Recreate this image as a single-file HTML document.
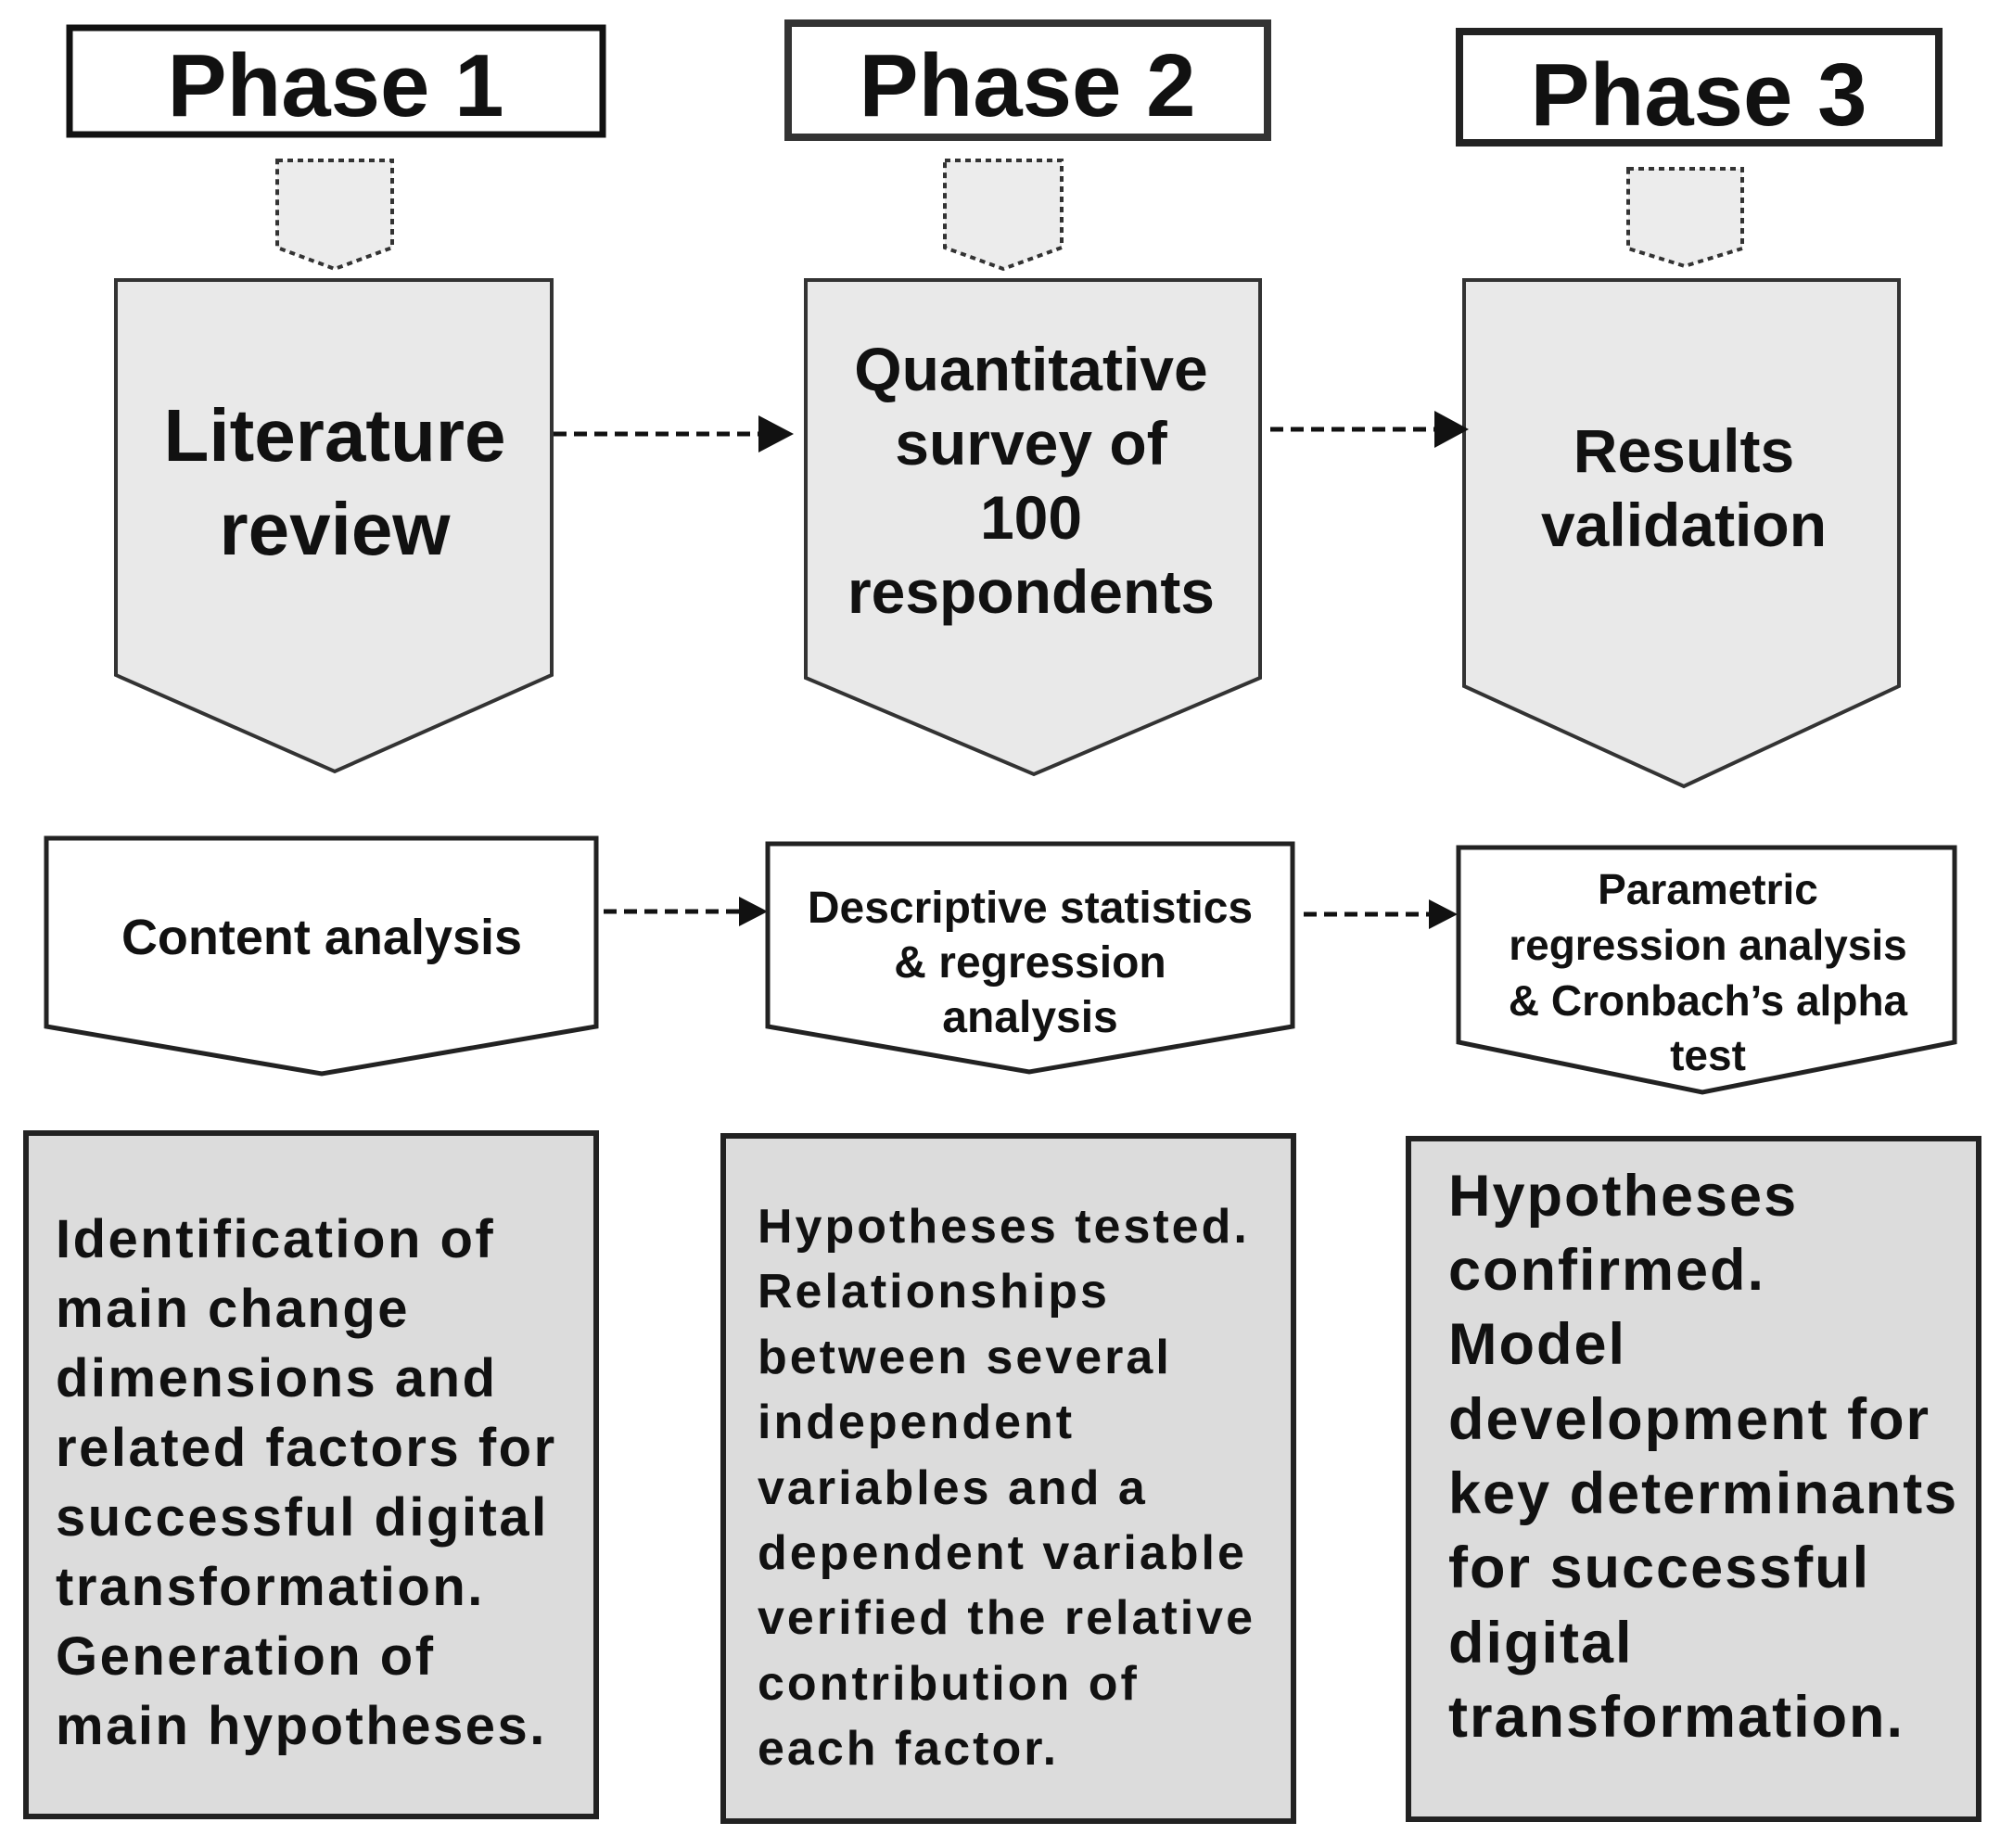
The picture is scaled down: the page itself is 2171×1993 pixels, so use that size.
<!DOCTYPE html>
<html><head><meta charset="utf-8"><style>
html,body{margin:0;padding:0;background:#fff;}
svg{display:block;}
text{font-family:"Liberation Sans",Arial,sans-serif;font-weight:bold;fill:#111;}
</style></head><body>
<svg width="2171" height="1993" viewBox="0 0 2171 1993" xmlns="http://www.w3.org/2000/svg">
<!-- Phase headers -->
<rect x="75" y="30" width="575" height="115" fill="#fff" stroke="#111" stroke-width="7"/>
<text x="362" y="125" font-size="96" text-anchor="middle">Phase 1</text>
<rect x="850" y="25" width="517" height="123" fill="#fff" stroke="#333" stroke-width="8"/>
<text x="1108" y="125" font-size="96" text-anchor="middle">Phase 2</text>
<rect x="1574" y="34" width="517" height="120" fill="#fff" stroke="#222" stroke-width="8"/>
<text x="1832" y="135" font-size="96" text-anchor="middle">Phase 3</text>

<!-- dotted small pentagons -->
<g fill="#ececec" stroke="#333" stroke-width="4" stroke-dasharray="6,5">
<polygon points="299,173 423,173 423,267 361,290 299,267"/>
<polygon points="1019,173 1145,173 1145,267 1082,290 1019,267"/>
<polygon points="1756,182 1879,182 1879,268 1817,287 1756,268"/>
</g>

<!-- big pentagons -->
<g fill="#e9e9e9" stroke="#333" stroke-width="4">
<polygon points="125,302 595,302 595,728 361,832 125,728"/>
<polygon points="869,302 1359,302 1359,731 1115,835 869,731"/>
<polygon points="1579,302 2048,302 2048,740 1816,848 1579,740"/>
</g>
<text x="361" y="497" font-size="80" text-anchor="middle">Literature</text>
<text x="361" y="598" font-size="80" text-anchor="middle">review</text>
<g font-size="66">
<text x="1112" y="421" text-anchor="middle">Quantitative</text>
<text x="1112" y="501" text-anchor="middle">survey of</text>
<text x="1112" y="581" text-anchor="middle">100</text>
<text x="1112" y="661" text-anchor="middle">respondents</text>
<text x="1816" y="509" text-anchor="middle">Results</text>
<text x="1816" y="589" text-anchor="middle">validation</text>
</g>

<!-- arrows -->
<g stroke="#111" stroke-width="5" stroke-dasharray="14,8" fill="none">
<line x1="597" y1="468" x2="826" y2="468"/>
<line x1="1370" y1="463" x2="1555" y2="463"/>
<line x1="651" y1="983" x2="800" y2="983"/>
<line x1="1406" y1="986" x2="1545" y2="986"/>
</g>
<g fill="#111">
<polygon points="818,448 856,468 818,488"/>
<polygon points="1547,443 1584,463 1547,483"/>
<polygon points="797,967 828,983 797,999"/>
<polygon points="1541,970 1572,986 1541,1002"/>
</g>

<!-- row 2 white pentagons -->
<g fill="#fff" stroke="#222" stroke-width="5">
<polygon points="50,904 643,904 643,1107 347,1158 50,1107"/>
<polygon points="828,910 1394,910 1394,1107 1110,1156 828,1107"/>
<polygon points="1573,914 2108,914 2108,1124 1836,1178 1573,1124"/>
</g>
<text x="347" y="1029" font-size="54" text-anchor="middle">Content analysis</text>
<g font-size="48" text-anchor="middle">
<text x="1111" y="995">Descriptive statistics</text>
<text x="1111" y="1054">&amp; regression</text>
<text x="1111" y="1113">analysis</text>
</g>
<g font-size="46" text-anchor="middle">
<text x="1842" y="975">Parametric</text>
<text x="1842" y="1035">regression analysis</text>
<text x="1842" y="1095">&amp; Cronbach’s alpha</text>
<text x="1842" y="1154">test</text>
</g>

<!-- bottom boxes -->
<g fill="#dcdcdc" stroke="#222" stroke-width="6">
<rect x="28" y="1222" width="615" height="737"/>
<rect x="780" y="1225" width="615" height="739"/>
<rect x="1519" y="1228" width="615" height="734"/>
</g>
<g font-size="58" letter-spacing="2.5">
<text x="60" y="1356">Identification of</text>
<text x="60" y="1431">main change</text>
<text x="60" y="1506">dimensions and</text>
<text x="60" y="1581">related factors for</text>
<text x="60" y="1656">successful digital</text>
<text x="60" y="1731">transformation.</text>
<text x="60" y="1806">Generation of</text>
<text x="60" y="1881">main hypotheses.</text>
</g>
<g font-size="52" letter-spacing="3">
<text x="817" y="1340">Hypotheses tested.</text>
<text x="817" y="1410">Relationships</text>
<text x="817" y="1481">between several</text>
<text x="817" y="1551">independent</text>
<text x="817" y="1622">variables and a</text>
<text x="817" y="1692">dependent variable</text>
<text x="817" y="1762">verified the relative</text>
<text x="817" y="1833">contribution of</text>
<text x="817" y="1903">each factor.</text>
</g>
<g font-size="63" letter-spacing="2">
<text x="1562" y="1311">Hypotheses</text>
<text x="1562" y="1391">confirmed.</text>
<text x="1562" y="1471">Model</text>
<text x="1562" y="1552">development for</text>
<text x="1562" y="1632">key determinants</text>
<text x="1562" y="1712">for successful</text>
<text x="1562" y="1793">digital</text>
<text x="1562" y="1873">transformation.</text>
</g>
</svg>
</body></html>
